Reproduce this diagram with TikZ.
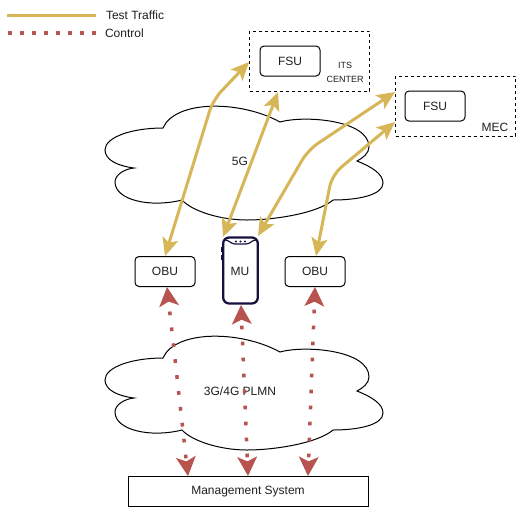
\documentclass[tikz,border=0pt]{standalone}
\usepackage{fontspec}
\setmainfont{Liberation Sans}
\usetikzlibrary{arrows.meta}
\definecolor{gold}{HTML}{D6B656}
\definecolor{ctrl}{HTML}{B85450}
\definecolor{phone}{HTML}{190F3C}
\definecolor{ink}{HTML}{1F1F1F}
\tikzset{
  x=0.75pt,y=-0.75pt,
  every node/.style={font=\fontsize{9}{11}\selectfont,text=ink,inner sep=0pt,outer sep=0pt},
  unitbox/.style={draw=black,line width=0.75pt,rounded corners=3pt,minimum width=45pt,minimum height=22.5pt},
  plainbox/.style={draw=black,line width=0.75pt,minimum width=180pt,minimum height=22.5pt},
  domainbox/.style={draw=black,line width=0.75pt,dash pattern=on 2.25pt off 2.25pt,minimum width=90pt,minimum height=45pt},
  cloudline/.style={draw=black,line width=0.75pt},
  traffic/.style={draw=gold,line width=2.25pt,rounded corners=9pt,{Stealth[length=13.5pt,width=12pt,inset=3pt,fill=gold]}-{Stealth[length=13.5pt,width=12pt,inset=3pt,fill=gold]}},
  control/.style={draw=ctrl,line width=2.6pt,dash pattern=on 2.8pt off 9.2pt,{Stealth[length=14.5pt,width=15pt,inset=3.5pt,fill=ctrl,line width=0pt]}-{Stealth[length=14.5pt,width=15pt,inset=3.5pt,fill=ctrl,line width=0pt]}},
  legendtraffic/.style={draw=gold,line width=2.25pt},
  legendcontrol/.style={draw=ctrl,line width=2.6pt,dash pattern=on 2.8pt off 6.2pt},
}
\newcommand{\cloudshape}{%
  (163,358)
  .. controls (175,330) and (240,330) .. (280,352)
  .. controls (305,345) and (369,350) .. (369,377)
  .. controls (369,383) and (363,388) .. (357,391)
  .. controls (372,397) and (383,404) .. (383,413)
  .. controls (383,425) and (358,430) .. (333,430)
  .. controls (318,443) and (275,450) .. (247,450)
  .. controls (220,450) and (192,441) .. (182,430)
  .. controls (150,438) and (115,430) .. (115,412)
  .. controls (115,405) and (124,399) .. (134,398)
  .. controls (118,396) and (105,390) .. (105,380)
  .. controls (105,367) and (132,358) .. (163,358)
  -- cycle}
\begin{document}
\begin{tikzpicture}
\useasboundingbox (0,0) rectangle (521,512);
% legend
\coordinate (lta) at (7,15); \coordinate (ltb) at (96,15);
\coordinate (lca) at (8,33); \coordinate (lcb) at (96,33);
\draw[legendtraffic] (lta) -- (ltb);
\draw[legendcontrol] (lca) -- (lcb);
\node[anchor=west] (ltt) at (106,15) {Test Traffic};
\node[anchor=west] (lct) at (105,33) {Control};
% clouds
\draw[cloudline,fill=white,yshift=172.5pt] \cloudshape; 
\draw[cloudline,fill=white] \cloudshape;
\node (fiveg) at (240,161) {5G};
\node (plmn) at (240,391) {3G/4G PLMN};
% domains
\node[domainbox] (its) at (309.5,61) {};
\node[domainbox] (mec) at (455.5,106) {};
\node[unitbox] (fsua) at (290,61) {FSU};
\node[unitbox] (fsub) at (435,106) {FSU};
\node[align=center,font=\fontsize{6.75}{10.5}\selectfont] (itsl) at (345,72.5) {ITS\\CENTER};
\node (mecl) at (495,127) {MEC};
% units
\node[unitbox] (obua) at (165,271.5) {OBU};
\node[unitbox] (obub) at (315,271.5) {OBU};
\node[minimum width=26pt,minimum height=49.5pt] (mu) at (240.5,270.5) {};
\draw[draw=phone,line width=1.7pt,rounded corners=4.5pt] (mu.south west) rectangle (mu.north east);
\draw[draw=phone,line width=0.9pt] (225,240) .. controls (229,240) and (231,244) .. (235,244) -- (246,244) .. controls (250,244) and (252,240) .. (256,240);
\fill[phone] (236,241.5) circle (0.8pt) (240.5,241.5) circle (0.8pt) (245,241.5) circle (0.8pt);
\draw[draw=phone,line width=1.5pt] (222,247) -- (222,252) (222,255) -- (222,260);
\node (mul) at (240,271) {MU};
\node[plainbox] (ms) at (248,491.5) {Management System};
% free ends on the boundaries
\coordinate (ga) at (165,256); \coordinate (gb) at (249,62);
\coordinate (gc) at (223,237); \coordinate (gd) at (278,92);
\coordinate (ge) at (258,236); \coordinate (gf) at (395,92);
\coordinate (gg) at (316,256); \coordinate (gh) at (395,122);
\coordinate (ra) at (167,287); \coordinate (rb) at (188,476);
\coordinate (rc) at (241,305); \coordinate (rd) at (248,476);
\coordinate (re) at (315,287); \coordinate (rf) at (308,476);
% connectors
\draw[traffic] (ga) -- (213,100) -- (gb);
\draw[traffic] (gc) -- (gd);
\draw[traffic] (ge) -- (308,150) -- (gf);
\draw[traffic] (gg) -- (332,175) -- (gh);
\draw[control,dash phase=4.5pt] (ra) -- (rb);
\draw[control,dash phase=7.5pt] (rc) -- (rd);
\draw[control,dash phase=6pt] (re) -- (rf);
\end{tikzpicture}
\end{document}
